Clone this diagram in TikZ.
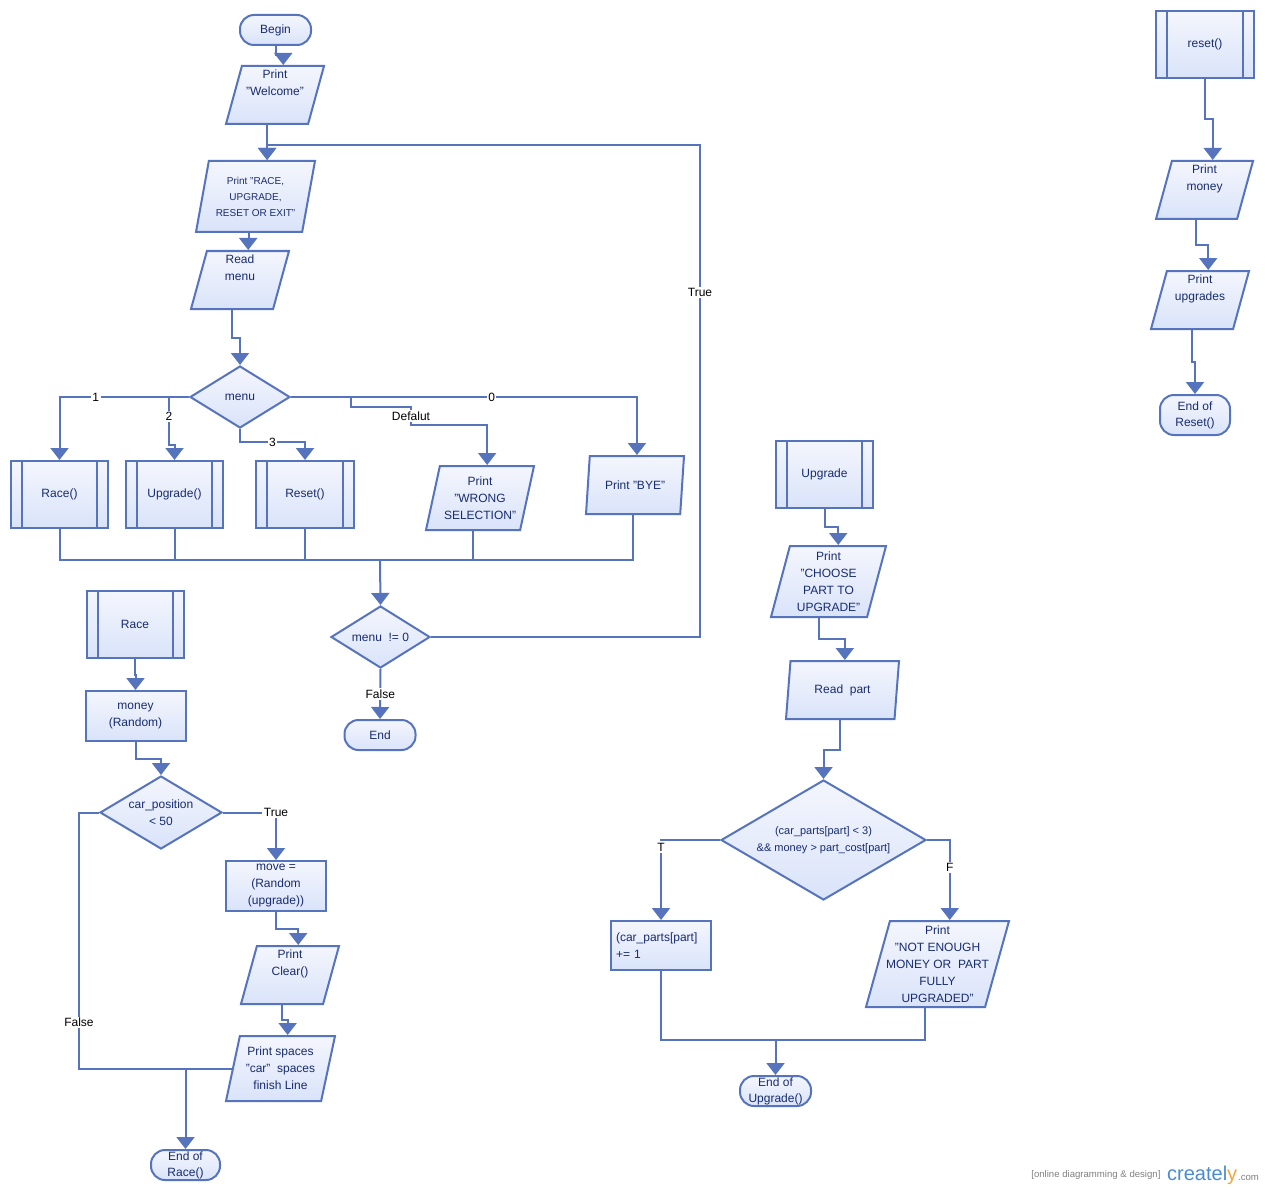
\documentclass[tikz,border=0pt]{standalone}
\usepackage{fontspec}
\setmainfont{Liberation Sans}
\usetikzlibrary{shapes.geometric, arrows.meta, calc}
\definecolor{xian}{RGB}{86,115,190}
\definecolor{zi}{RGB}{24,44,112}
\definecolor{dingse}{RGB}{244,246,253}
\definecolor{dise}{RGB}{217,227,249}
\definecolor{wlan}{RGB}{74,139,208}
\definecolor{wcheng}{RGB}{243,166,62}
\newcommand\pad{\\[7pt]\mbox{}}
\tikzset{ %流程图样式
    box/.style={draw=xian, line width=2pt, top color=dingse, bottom color=dise, text=zi, font=\fontsize{12}{17}\selectfont, align=center, inner sep=2pt},
    term/.style={box, rectangle, rounded corners=14pt, inner sep=0.5pt, minimum width=71pt, minimum height=30pt, font=\fontsize{12}{16}\selectfont},
    proc/.style={box, rectangle, minimum width=100pt, minimum height=50pt},
    sub/.style={box, rectangle, minimum width=97pt, minimum height=67pt, path picture={
        \draw[xian, line width=2pt] ([xshift=11pt]path picture bounding box.north west) -- ([xshift=11pt]path picture bounding box.south west)
            ([xshift=-11pt]path picture bounding box.north east) -- ([xshift=-11pt]path picture bounding box.south east);}},
    io/.style={box, trapezium, trapezium left angle=73.5, trapezium right angle=106.5, trapezium stretches body, minimum width=98pt, minimum height=58pt},
    dec/.style={box, diamond, inner sep=0pt},
    conn/.style={draw=xian, line width=2pt},
    arr/.style={conn, -{Triangle[width=18pt,length=12pt]}},
    lbl/.style={fill=white, inner sep=1.5pt, text=black, font=\fontsize{12}{14}\selectfont},
    elbow/.style={to path={|- ($(\tikztostart)!0.5!(\tikztotarget)$) -| (\tikztotarget)}},
}

\begin{document}
\begin{tikzpicture}[x=1pt, y=-1pt]
	\useasboundingbox (0,0) rectangle (1265,1190);
	% main menu
	\node[term] (begin) at (275.5,30) {Begin};
	\node[io] (welcome) at (275,95) {Print\\"Welcome"\pad};
	\node[io, minimum width=119pt, minimum height=71pt, font=\fontsize{10}{16}\selectfont] (pmenu) at (255.5,196.5) {Print "RACE,\\UPGRADE,\\RESET OR EXIT"};
	\node[io] (readmenu) at (240,280) {Read\\menu\pad};
	\node[dec, minimum width=100pt, minimum height=62pt, aspect=1.6] (menu) at (240,397) {menu};
	\node[sub] (racec) at (59.5,494.5) {Race()};
	\node[sub] (upgc) at (174.5,494.5) {Upgrade()};
	\node[sub, minimum width=98pt] (resetc) at (305,494.5) {Reset()};
	\node[io, minimum width=108pt, minimum height=64pt] (wrong) at (480,498) {Print\\"WRONG\\SELECTION"};
	\node[io] (bye) at (635,485) {Print "BYE"};
	\node[dec, minimum width=99pt, minimum height=62pt, aspect=1.6] (neq) at (380.5,637) {menu\ \ != 0};
	\node[term] (theend) at (380,735) {End};
	\coordinate (hui) at (380,560);
	\coordinate (huan) at (700,145);

	\draw[arr] (begin.south) to[elbow] (welcome.top side);
	\draw[arr] (welcome.bottom side) to[elbow] ([xshift=5pt]pmenu.top side);
	\draw[arr] (pmenu.bottom side) to[elbow] (readmenu.top side);
	\draw[arr] (readmenu.bottom side) to[elbow] (menu.north);
	\draw[arr] (menu.west) -| node[lbl, pos=0.36] {1} (racec.north);
	\draw[arr] (menu.west) -- ++(-20,0) -- node[lbl, pos=0.4] {2} ++(0,48) -| (upgc.north);
	\draw[arr] (menu.south) -- ++(0,13) -| node[lbl, pos=0.25] {3} (resetc.north);
	\draw[arr] (menu.east) -- ++(60,0) -- ++(0,10) -- ++(60,0) -- node[lbl] {Defalut} ++(0,18) -| (wrong.top side);
	\draw[arr] (menu.east) -| node[lbl, pos=0.29] {0} (bye.top side);
	\foreach \n in {racec.south, upgc.south, resetc.south, wrong.bottom side, bye.bottom side}
		\draw[conn] (\n) |- (hui);
	\draw[arr] (hui) -- (neq.north);
	\draw[arr] (neq.south) -- node[lbl] {False} (theend.north);
	\draw[arr] (neq.east) -| node[lbl, pos=0.85] {True} (huan) -| ([xshift=5pt]pmenu.top side);

	% Race
	\node[sub] (racep) at (135,624.5) {Race};
	\node[proc] (money) at (135.5,716) {money\\(Random)};
	\node[dec, minimum width=122pt, minimum height=73pt, aspect=1.67] (carpos) at (161,812.5) {car\_position\\< 50};
	\node[proc] (move) at (276,886) {move =\\(Random\\(upgrade))};
	\node[io] (clear) at (290,975) {Print\\Clear()\pad};
	\node[io, minimum width=109pt, minimum height=65pt] (spaces) at (280.5,1068.5) {Print spaces\\"car"\ \ spaces\\finish Line};
	\node[term, minimum width=69pt] (endrace) at (185.5,1165) {End of\\Race()};
	\coordinate (join) at (spaces.left side -| endrace.north);

	\draw[arr] (racep.south) to[elbow] (money.north);
	\draw[arr] (money.south) to[elbow] (carpos.north);
	\draw[arr] (carpos.east) -| node[lbl, pos=0.5] {True} (move.north);
	\draw[arr] (move.south) to[elbow] (clear.top side);
	\draw[arr] (clear.bottom side) to[elbow] (spaces.top side);
	\draw[conn] (carpos.west) -- ++(-20,0) |- node[lbl, pos=0.41] {False} (join);
	\draw[conn] (spaces.left side) -- (join);
	\draw[arr] (join) -- (endrace.north);

	% Upgrade
	\node[sub] (upgp) at (824.5,474.5) {Upgrade};
	\node[io, minimum width=115pt, minimum height=71pt] (choose) at (828.5,581.5) {Print\\"CHOOSE\\PART\ TO\\UPGRADE"};
	\node[io, minimum width=113pt] (readpart) at (842.5,690) {Read\ \ part};
	\node[dec, minimum width=205pt, minimum height=120pt, aspect=1.7, font=\fontsize{11}{17}\selectfont] (updiam) at (823.5,840) {(car\_parts[part] < 3)\\\&\& money > part\_cost[part]};
	\node[proc, minimum height=49pt, text width=90pt, align=left] (parts) at (661,945.5) {(car\_parts[part]\\+= 1};
	\node[io, minimum width=143pt, minimum height=86pt, inner xsep=-4pt] (noteno) at (937.5,964) {Print\\"NOT ENOUGH\\MONEY OR\ \ PART\\FULLY\\UPGRADED"};
	\node[term] (endup) at (775.5,1091) {End of\\Upgrade()};
	\coordinate (hui2) at (775.5,1040);

	\draw[arr] (upgp.south) to[elbow] (choose.top side);
	\draw[arr] (choose.bottom side) to[elbow] (readpart.top side);
	\draw[arr] (readpart.bottom side) to[elbow] (updiam.north);
	\draw[arr] (updiam.west) -| node[lbl, pos=0.5, yshift=-7pt] {T} (parts.north);
	\draw[arr] (updiam.east) -| node[lbl, pos=0.67] {F} (noteno.top side);
	\draw[conn] (parts.south) |- (hui2);
	\draw[conn] (noteno.bottom side) |- (hui2);
	\draw[arr] (hui2) -- (endup.north);

	% reset
	\node[sub, minimum width=98pt] (resetp) at (1205,44.5) {reset()};
	\node[io, minimum width=97pt] (pmoney) at (1204.5,190) {Print\\money\pad};
	\node[io] (pupg) at (1200,300) {Print\\upgrades\pad};
	\node[term, minimum width=70pt, minimum height=40pt] (endreset) at (1195,415) {End of\\Reset()};
	\draw[arr] (resetp.south) to[elbow] (pmoney.top side);
	\draw[arr] (pmoney.bottom side) to[elbow] (pupg.top side);
	\draw[arr] (pupg.bottom side) to[elbow] (endreset.north);

	%\draw[help lines] (0,0) grid[step=100] (1265,1190);
	\node[anchor=east, text=gray, font=\fontsize{9.6}{10}\selectfont] (wm) at (1164,1175) {[online diagramming \& design]};
	\node[anchor=base west, inner sep=0pt, text=wlan, font=\fontsize{20}{20}\selectfont] (logo) at (1167,1180) {createl\textcolor{wcheng}{y}};
	\node[anchor=base west, inner sep=0.5pt, text=gray, font=\fontsize{9.6}{10}\selectfont] (dotcom) at (logo.base east) {.com};
\end{tikzpicture}
\end{document}
